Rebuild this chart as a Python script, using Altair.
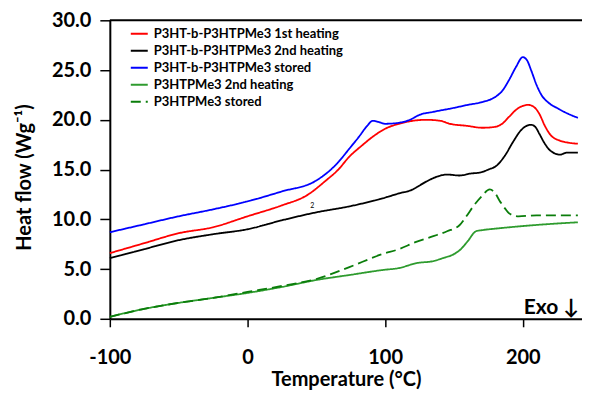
import altair as alt
import pandas as pd

series_names = [
    "P3HT-b-P3HTPMe3 1st heating",
    "P3HT-b-P3HTPMe3 2nd heating",
    "P3HT-b-P3HTPMe3 stored",
    "P3HTPMe3 2nd heating",
    "P3HTPMe3 stored",
]
series_colors = ["#ff0000", "#000000", "#0000ff", "#2e9b2e", "#0a7d0a"]

t_red = [-100, -75, -50, -25, 0, 25, 43, 57, 66, 74, 83, 91, 100, 110, 120, 130, 140, 147,
         159, 171, 180, 185, 190, 196, 204, 208, 212, 216, 220, 227, 233, 240]
v_red = [6.6, 7.6, 8.6, 9.2, 10.3, 11.4, 12.4, 13.9, 15.0, 16.3, 17.4, 18.3, 19.1, 19.6, 19.9, 20.0, 19.9, 19.6,
         19.4, 19.2, 19.3, 19.6, 20.3, 21.1, 21.5, 21.3, 20.6, 19.4, 18.5, 17.9, 17.7, 17.6]

t_black = [-100, -75, -50, -25, 0, 25, 50, 74, 98, 110, 120, 125, 130, 138, 145, 154, 162, 169,
           175, 181, 187, 193, 199, 206, 209, 212, 216, 220, 227, 232, 240]
v_black = [6.1, 7.0, 7.9, 8.5, 9.0, 9.9, 10.7, 11.3, 12.1, 12.6, 13.0, 13.4, 13.8, 14.3, 14.5, 14.4, 14.6, 14.7,
           15.0, 15.4, 16.4, 17.8, 19.0, 19.5, 19.3, 18.6, 17.6, 16.9, 16.5, 16.7, 16.7]

t_blue = [-100, -75, -50, -25, 0, 25, 50, 65, 74, 81, 87, 91, 95, 100, 110, 118, 125, 135, 150, 160,
          171, 180, 185, 190, 195, 200, 203, 206, 210, 214, 218, 226, 233, 240]
v_blue = [8.7, 9.5, 10.3, 11.0, 11.8, 12.8, 13.9, 15.6, 17.1, 18.3, 19.4, 19.9, 19.8, 19.6, 19.7, 20.0, 20.5, 20.8, 21.2, 21.5,
          21.8, 22.3, 22.9, 24.0, 25.3, 26.3, 26.0, 25.0, 23.5, 22.4, 21.8, 21.1, 20.6, 20.2]

t_green = [-100, -75, -50, -25, 0, 25, 50, 74, 98, 110, 123, 135, 142, 150, 155, 160, 166, 170, 183, 207, 240]
v_green = [0.2, 1.0, 1.6, 2.1, 2.6, 3.2, 3.9, 4.4, 4.9, 5.1, 5.6, 5.8, 6.1, 6.5, 7.0, 7.8, 8.8, 8.9, 9.1, 9.4, 9.7]

t_green_dash = [-100, -75, -50, -25, 0, 25, 50, 74, 98, 110, 122, 135, 145, 154, 159, 164, 170, 176,
                180, 183, 187, 190, 197, 210, 240]
v_green_dash = [0.2, 1.0, 1.6, 2.1, 2.7, 3.3, 4.0, 5.2, 6.5, 7.0, 7.7, 8.3, 8.8, 9.4, 10.3, 11.3, 12.3, 13.0,
                12.6, 11.9, 11.1, 10.6, 10.3, 10.4, 10.4]

x_ticks = [-100, 0, 100, 200]
y_ticks = [0, 5, 10, 15, 20, 25, 30]

FONT = "Lato"

rows = []
for name, ts, vs in zip(series_names,
                        [t_red, t_black, t_blue, t_green, t_green_dash],
                        [v_red, v_black, v_blue, v_green, v_green_dash]):
    for t, v in zip(ts, vs):
        rows.append({"series": name, "T": t, "v": v})
df = pd.DataFrame(rows)

color_scale = alt.Scale(domain=series_names, range=series_colors)
dash_scale = alt.Scale(domain=series_names, range=[[1, 0], [1, 0], [1, 0], [1, 0], [10, 5]])

legend = alt.Legend(
    orient="none", legendX=20, legendY=4, title=None,
    symbolType="stroke", symbolSize=289, symbolStrokeWidth=2,
    labelFont=FONT, labelFontSize=13, labelFontWeight="bold", labelColor="black",
    labelLimit=0, rowPadding=0, padding=0, labelOffset=5,
)

x_enc = alt.X(
    "T:Q",
    scale=alt.Scale(domain=[-100, 243], nice=False, zero=False),
    axis=alt.Axis(values=x_ticks, labelExpr="'' + datum.value", title="Temperature (°C)",
                  tickSize=8, labelPadding=21, labelBaseline="top", labelFlush=False,
                  titleY=67, titleBaseline="alphabetic"),
)
y_enc = alt.Y(
    "v:Q",
    scale=alt.Scale(domain=[0, 30], nice=False),
    axis=alt.Axis(values=y_ticks, format=".1f", title="Heat flow (Wg⁻¹)",
                  tickSize=10, labelPadding=9, labelFlush=False,
                  titleX=-85, titleY=157, titleAlign="center", titleBaseline="middle", titleAngle=-90),
)

lines = alt.Chart(df).mark_line(strokeWidth=1.8, interpolate="monotone").encode(
    x=x_enc,
    y=y_enc,
    color=alt.Color("series:N", scale=color_scale, sort=series_names, legend=legend),
    strokeDash=alt.StrokeDash("series:N", scale=dash_scale, sort=series_names, legend=legend),
    detail="series:N",
)

top_line = alt.Chart(pd.DataFrame({"v": [30]})).mark_rule(color="black", strokeWidth=2).encode(
    y="v:Q"
)

exo = alt.Chart(pd.DataFrame({"T": [243], "v": [0.5], "label": ["Exo ↓"]})).mark_text(
    font=FONT, fontSize=21, fontWeight="bold", align="right", baseline="alphabetic", dx=-3, color="black"
).encode(x="T:Q", y="v:Q", text="label:N")

tiny = alt.Chart(pd.DataFrame({"T": [47], "v": [11.1], "label": ["2"]})).mark_text(
    font=FONT, fontSize=7, color="black", baseline="alphabetic"
).encode(x="T:Q", y="v:Q", text="label:N")

chart = alt.layer(lines, top_line, exo, tiny).properties(
    width=473, height=299,
    autosize=alt.AutoSizeParams(type="none"),
    padding={"left": 102, "top": 12, "right": 0, "bottom": 72},
).configure_view(stroke=None).configure_axis(
    domainColor="black", domainWidth=2, tickColor="black", tickWidth=1.5, grid=False,
    labelFont=FONT, labelFontSize=20, labelFontWeight="bold", labelColor="black",
    titleFont=FONT, titleFontSize=20, titleFontWeight="bold", titleColor="black",
)

chart.save("out.html", embed_options={"renderer": "svg", "actions": False})
